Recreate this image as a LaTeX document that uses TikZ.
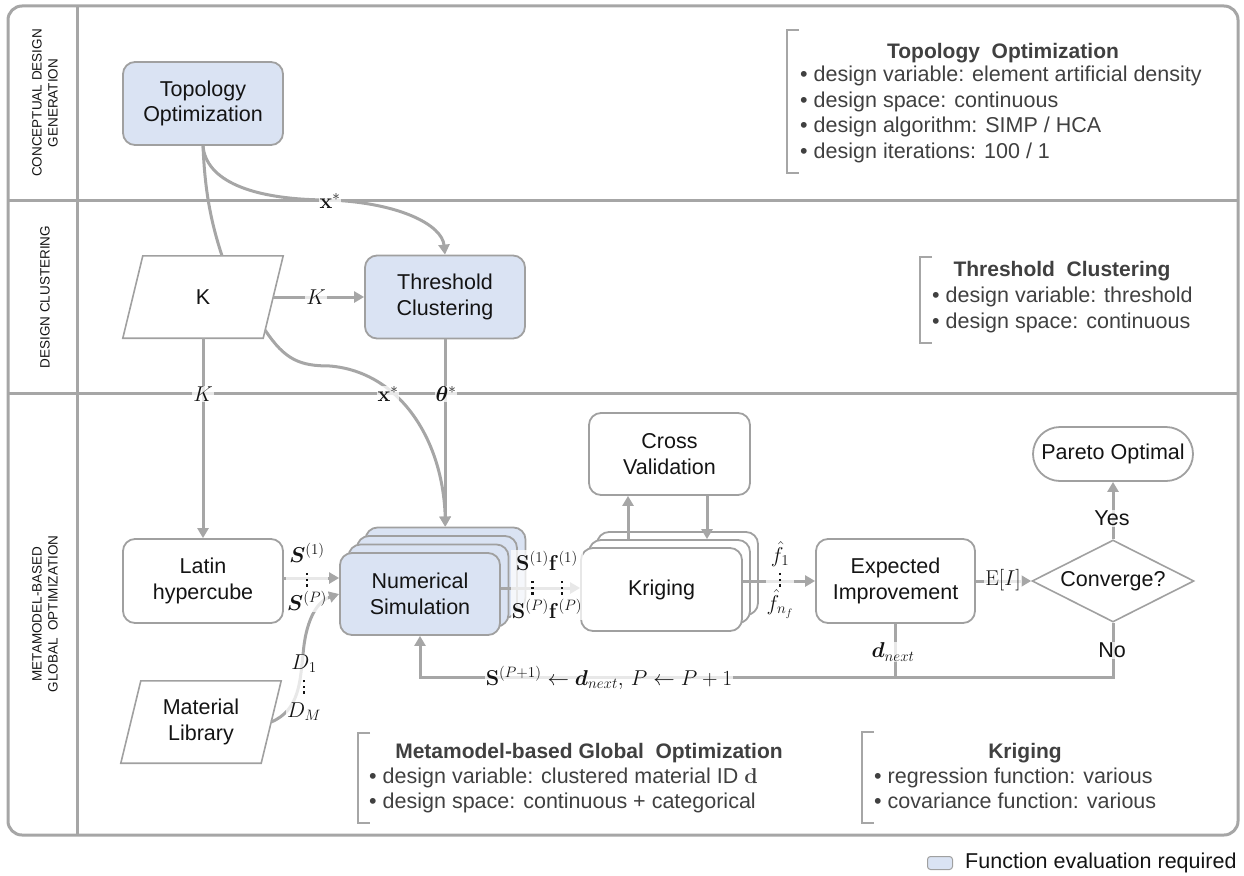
\RequirePackage{fix-cm}
\documentclass[tikz,border=0pt]{standalone}
\usepackage{amsmath}
\usepackage{bm}
\usepackage[no-math]{fontspec}
\setmainfont{Liberation Sans}
\usetikzlibrary{arrows.meta,shapes.geometric,calc}
\definecolor{boxblue}{RGB}{218,227,243}
\definecolor{lgray}{RGB}{166,166,166}
\definecolor{bgray}{RGB}{160,160,160}
\definecolor{atext}{RGB}{64,64,64}
\definecolor{ntext}{RGB}{20,20,20}
\newcommand\nodefont{\fontsize{21.5}{25.5}\selectfont}
\newcommand\annfont{\fontsize{21.5}{25.5}\selectfont}
\newcommand\annbold{\fontsize{21}{25}\selectfont\bfseries}
\newcommand\labfont{\fontsize{21.5}{24}\selectfont}
\newcommand\rowfont{\fontsize{13.5}{16}\selectfont}
\newcommand\mydot{\hbox{\rule{2.3pt}{2.3pt}}}
\newcommand\myvdots{\vbox{\offinterlineskip\mydot\kern3.4pt\mydot\kern3.4pt\mydot}}
\tikzset{
  nbox/.style={draw=bgray, line width=1.8pt, rounded corners=12pt, minimum width=160pt,
    minimum height=83pt, align=center, font=\nodefont, text=ntext, inner sep=0pt},
  fe/.style={nbox, fill=boxblue},
  arr/.style={draw=lgray, line width=3pt, -{Triangle[length=10pt,width=11pt]}},
  plain/.style={draw=lgray, line width=3pt},
  lab/.style={fill=white, fill opacity=0.75, text opacity=1, inner sep=1pt, font=\labfont, text=ntext},
  ann/.style={text=atext, font=\annfont, inner sep=0pt, text height=15pt, text depth=4pt},
  annhead/.style={ann, font=\annbold},
  bracket/.style={draw=lgray, line width=1.6pt},
  para/.style={draw=bgray, line width=1.6pt},
  frame/.style={draw=lgray, line width=3pt},
}
\begin{document}
\begin{tikzpicture}[x=1pt,y=-1pt]
\useasboundingbox (0,0) rectangle (1244,875);

% frame and swim lanes
\draw[frame, rounded corners=14pt] (8,6) rectangle (1238,835);
\draw[frame] (77,6) -- (77,835);
\draw[frame] (8,200) -- (1238,200);
\draw[frame] (8,393) -- (1238,393);

\node[rotate=90, align=center, font=\rowfont, text=ntext] (r1) at (45,103) {CONCEPTUAL DESIGN\\GENERATION};
\node[rotate=90, align=center, font=\rowfont, text=ntext] (r2) at (45,297) {DESIGN CLUSTERING};
\node[rotate=90, align=center, font=\rowfont, text=ntext] (r3) at (45,614) {METAMODEL-BASED\\GLOBAL\ \ OPTIMIZATION};

% nodes
\node[fe] (topo) at (203,103.5) {Topology\\Optimization};
\node[minimum width=140pt, minimum height=82pt, inner sep=0pt, font=\nodefont, text=ntext] (k) at (203,297) {K};
\draw[para] ($(k.north west)+(10,0)$) -- ($(k.north east)+(10,0)$) -- ($(k.south east)+(-10,0)$) -- ($(k.south west)+(-10,0)$) -- cycle;
\node[fe] (thr) at (445,297) {Threshold\\Clustering};
\node[nbox, minimum height=84pt] (latin) at (203,581) {Latin\\hypercube};
\node[minimum width=140pt, minimum height=82pt, inner sep=0pt, align=center, font=\nodefont, text=ntext] (mat) at (201,722) {Material\\Library};
\draw[para] ($(mat.north west)+(10,0)$) -- ($(mat.north east)+(10,0)$) -- ($(mat.south east)+(-10,0)$) -- ($(mat.south west)+(-10,0)$) -- cycle;

\foreach \k in {3,2,1} {\node[fe, minimum height=82pt] (num\k) at ({420+8.5*\k},{594-8.5*\k}) {};}
\node[fe, minimum height=82pt] (num0) at (420,594) {Numerical\\Simulation};

\foreach \k in {2,1} {\node[nbox, fill=white, minimum width=161pt] (kr\k) at ({661.5+8*\k},{589.5-8*\k}) {};}
\node[nbox, fill=white, minimum width=161pt] (kr0) at (661.5,589.5) {Kriging};

\node[nbox, minimum width=161pt, minimum height=82pt] (cv) at (669.5,454) {Cross\\Validation};
\node[nbox, minimum width=159pt, minimum height=84pt] (ei) at (895.5,581) {Expected\\Improvement};
\node[diamond, aspect=2, draw=bgray, line width=1.6pt, minimum width=162pt, minimum height=82pt,
  inner sep=0pt, font=\nodefont, text=ntext] (conv) at (1113,581) {Converge?};
\node[nbox, minimum height=54pt, rounded corners=27pt] (par) at (1113,454) {Pareto Optimal};

% connectors
\draw[arr] (topo.south) .. controls (206,180) and (250,200) .. (330,200)
   .. controls (400,203) and (442,225) .. (thr.north);
\draw[plain] (topo.south) .. controls (205,195) and (212,225) .. ($(k.north)+(19,0)$);
\draw[arr] (k.east) -- (thr.west);
\draw[arr] (k.south) -- (latin.north);
\draw[arr] ($(k.south east)+(-8,-8)$) .. controls (285,360) and (300,366) .. (330,366)
   .. controls (400,372) and (443,440) .. (num3.north);
\draw[arr] (thr.south) -- (thr.south |- num3.north);
\coordinate (la) at ($(latin.east)+(0,-3)$);
\draw[arr] (la) -- (la -| num0.west);
\draw[arr] (mat.east) .. controls (300,710) and (300,680) .. (303,655)
   .. controls (306,615) and (320,600) .. (num0.west);
\coordinate (nk) at ($(num0.east)+(0,-6)$);
\draw[arr] (nk) -- (nk -| kr0.west);
\coordinate (cvl) at ($(cv.south)+(-41.5,0)$);
\coordinate (cvr) at ($(cv.south)+(37.5,0)$);
\draw[arr] (cvl |- kr1.north) -- (cvl);
\draw[arr] (cvr) -- (cvr |- kr1.north);
\draw[arr] (kr0.east |- ei.west) -- (ei.west);
\draw[arr] (ei.east) -- (conv.west);
\draw[arr] (conv.north) -- (par.south);
\coordinate (fb) at (420,677);
\draw[arr] (conv.south) |- (fb) -- (num0.south);
\draw[plain] (ei.south) -- (ei.south |- fb);

% labels
\node[lab] (lx1) at (330,201) {$\mathbf{x}^*$};
\node[lab] (lk1) at (316,297) {$K$};
\node[lab] (lk2) at (203,394) {$K$};
\node[lab] (lx2) at (388,394) {$\mathbf{x}^*$};
\node[lab] (lth) at (446,394) {$\bm{\theta}^*$};
\node[lab, align=center] (lsg) at (307,577) {$\bm{S}^{(1)}$\\\myvdots\\$\bm{S}^{(P)}$};
\node[lab, align=center] (ldg) at (304,688) {$D_1$\\\myvdots\\$D_M$};
\node[lab, align=center] (lsfg) at (547,585) {$\mathbf{S}^{(1)}\mathbf{f}^{(1)}$\\\myvdots\hspace{27pt}\myvdots\\$\mathbf{S}^{(P)}\mathbf{f}^{(P)}$};
\node[lab, align=center] (lfg) at (780,580) {$\hat f_1$\\\myvdots\\$\hat f_{n_f}$};
\node[lab] (lei) at (1003,580) {$\mathrm{E}[I]$};
\node[lab, font=\nodefont] (lyes) at (1112,518) {Yes};
\node[lab, font=\nodefont] (lno) at (1112,650) {No};
\node[lab] (ldn) at (893,652) {$\bm{d}_{next}$};
\node[lab] (lfb) at (609,678) {$\mathbf{S}^{(P+1)}\leftarrow\bm{d}_{next},\,P\leftarrow P+1$};

% annotation: topology optimization
\draw[bracket] (799,30) -- (787,30) -- (787,173) -- (799,173);
\node[annhead] (a1h) at (1003,53) {Topology\ \ Optimization};
\node[ann, anchor=west] (a11) at (800,76) {• design variable: element artificial density};
\node[ann, anchor=west] (a12) at (800,101.5) {• design space: continuous};
\node[ann, anchor=west] (a13) at (800,127) {• design algorithm: SIMP / HCA};
\node[ann, anchor=west] (a14) at (800,152.5) {• design iterations: 100 / 1};

% annotation: threshold clustering
\draw[bracket] (932,257) -- (920,257) -- (920,343) -- (932,343);
\node[annhead] (a2h) at (1062,271) {Threshold\ \ Clustering};
\node[ann, anchor=west] (a21) at (932,297) {• design variable: threshold};
\node[ann, anchor=west] (a22) at (932,323) {• design space: continuous};

% annotation: metamodel-based global optimization
\draw[bracket] (370,733) -- (358,733) -- (358,823) -- (370,823);
\node[annhead] (a3h) at (589,753) {Metamodel-based Global\ \ Optimization};
\node[ann, anchor=west] (a31) at (369,778) {• design variable: clustered material ID $\mathbf{d}$};
\node[ann, anchor=west] (a32) at (369,803) {• design space: continuous + categorical};

% annotation: kriging
\draw[bracket] (874,732) -- (862,732) -- (862,823) -- (874,823);
\node[annhead] (a4h) at (1025,753) {Kriging};
\node[ann, anchor=west] (a41) at (874,778) {• regression function: various};
\node[ann, anchor=west] (a42) at (874,803) {• covariance function: various};

% legend
\node[draw=bgray, fill=boxblue, rounded corners=3pt, minimum width=25pt, minimum height=13pt,
  inner sep=0pt, line width=1pt] (lg) at (940,863) {};
\node[anchor=west, font=\annfont, text=ntext, inner sep=0pt] (lgt) at (965,863) {Function evaluation required};
\end{tikzpicture}
\end{document}
